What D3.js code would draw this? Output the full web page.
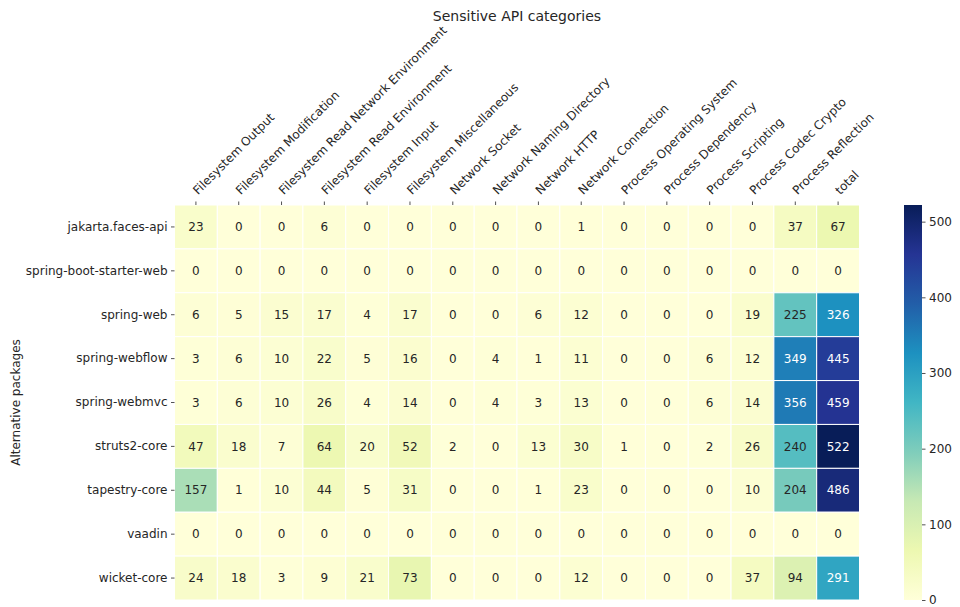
<!DOCTYPE html>
<html>
<head>
<meta charset="utf-8">
<script src="https://cdn.jsdelivr.net/npm/d3@7"></script>
<style>
  body { margin: 0; background: #fff; }
  text { font-family: "DejaVu Sans", sans-serif; fill: #262626; }
</style>
</head>
<body>
<svg id="vis"></svg>
<script>
var categories = ["Filesystem Output", "Filesystem Modification", "Filesystem Read Network Environment",
    "Filesystem Read Environment", "Filesystem Input", "Filesystem Miscellaneous", "Network Socket",
    "Network Naming Directory", "Network HTTP", "Network Connection", "Process Operating System",
    "Process Dependency", "Process Scripting", "Process Codec Crypto", "Process Reflection", "total"];

var packages = ["jakarta.faces-api", "spring-boot-starter-web", "spring-web", "spring-webflow",
    "spring-webmvc", "struts2-core", "tapestry-core", "vaadin", "wicket-core"];

var counts = [
    [23, 0, 0, 6, 0, 0, 0, 0, 0, 1, 0, 0, 0, 0, 37, 67],
    [0, 0, 0, 0, 0, 0, 0, 0, 0, 0, 0, 0, 0, 0, 0, 0],
    [6, 5, 15, 17, 4, 17, 0, 0, 6, 12, 0, 0, 0, 19, 225, 326],
    [3, 6, 10, 22, 5, 16, 0, 4, 1, 11, 0, 0, 6, 12, 349, 445],
    [3, 6, 10, 26, 4, 14, 0, 4, 3, 13, 0, 0, 6, 14, 356, 459],
    [47, 18, 7, 64, 20, 52, 2, 0, 13, 30, 1, 0, 2, 26, 240, 522],
    [157, 1, 10, 44, 5, 31, 0, 0, 1, 23, 0, 0, 0, 10, 204, 486],
    [0, 0, 0, 0, 0, 0, 0, 0, 0, 0, 0, 0, 0, 0, 0, 0],
    [24, 18, 3, 9, 21, 73, 0, 0, 0, 12, 0, 0, 0, 37, 94, 291]
];

var colorbarTicks = [0, 100, 200, 300, 400, 500];

// matplotlib YlGnBu (colorbrewer 9 steps)
var ylgnbu = ["#ffffd9", "#edf8b1", "#c7e9b4", "#7fcdbb", "#41b6c4", "#1d91c0", "#225ea8", "#253494", "#081d58"];

var width = 960, height = 607;
var grid = {left: 174.5, top: 205, right: 859.5, bottom: 600};

var svg = d3.select("#vis").attr("width", width).attr("height", height);

var x = d3.scaleBand().domain(categories).range([grid.left, grid.right]);
var y = d3.scaleBand().domain(packages).range([grid.top, grid.bottom]);

var vmax = d3.max(counts, function(r) { return d3.max(r); });
var color = d3.scaleLinear()
    .domain(ylgnbu.map(function(d, i) { return i / (ylgnbu.length - 1) * vmax; }))
    .range(ylgnbu)
    .interpolate(d3.interpolateRgb);

var cells = [];
counts.forEach(function(row, i) {
    row.forEach(function(v, j) {
        cells.push({pkg: packages[i], cat: categories[j], value: v});
    });
});

// relative luminance, same rule as seaborn for the annotation colour
function lum(c) {
    var rgb = d3.rgb(c);
    var f = function(u) {
        u = u / 255;
        return u <= 0.03928 ? u / 12.92 : Math.pow((u + 0.055) / 1.055, 2.4);
    };
    return 0.2126 * f(rgb.r) + 0.7152 * f(rgb.g) + 0.0722 * f(rgb.b);
}

// cells
svg.append("g").selectAll("rect")
    .data(cells)
    .enter().append("rect")
    .attr("x", function(d) { return x(d.cat); })
    .attr("y", function(d) { return y(d.pkg); })
    .attr("width", x.bandwidth())
    .attr("height", y.bandwidth())
    .attr("fill", function(d) { return color(d.value); })
    .attr("stroke", "#fff")
    .attr("stroke-width", 1);

// annotations
svg.append("g").selectAll("text")
    .data(cells)
    .enter().append("text")
    .attr("x", function(d) { return x(d.cat) + x.bandwidth() / 2; })
    .attr("y", function(d) { return y(d.pkg) + y.bandwidth() / 2; })
    .attr("dy", "0.35em")
    .attr("text-anchor", "middle")
    .style("font-size", "12px")
    .style("fill", function(d) { return lum(color(d.value)) > 0.408 ? "#262626" : "#ffffff"; })
    .text(function(d) { return d.value; });

// top x axis
var xAxis = svg.append("g")
    .attr("transform", "translate(0," + grid.top + ")")
    .call(d3.axisTop(x).tickSize(3.5).tickPadding(3));
xAxis.select(".domain").remove();
xAxis.selectAll(".tick line").attr("stroke", "#262626").attr("stroke-width", 0.8);
xAxis.selectAll(".tick text")
    .attr("text-anchor", "start")
    .attr("x", 0)
    .attr("y", 0)
    .attr("dy", "-0.22em")
    .attr("transform", "translate(4,-8) rotate(-45)")
    .style("font-size", "12px")
    .attr("fill", null);

// left y axis
var yAxis = svg.append("g")
    .attr("transform", "translate(" + grid.left + ",0)")
    .call(d3.axisLeft(y).tickSize(3.5).tickPadding(3.5));
yAxis.select(".domain").remove();
yAxis.selectAll(".tick line").attr("stroke", "#262626").attr("stroke-width", 0.8);
yAxis.selectAll(".tick text").style("font-size", "12px").attr("fill", null);

// title and y label
svg.append("text")
    .attr("x", (grid.left + grid.right) / 2)
    .attr("y", 21)
    .attr("text-anchor", "middle")
    .style("font-size", "14px")
    .text("Sensitive API categories");

svg.append("text")
    .attr("transform", "translate(20," + ((grid.top + grid.bottom) / 2) + ") rotate(-90)")
    .attr("text-anchor", "middle")
    .style("font-size", "12px")
    .text("Alternative packages");

// colorbar
var cb = {left: 904, width: 18};
var cbScale = d3.scaleLinear().domain([0, vmax]).range([grid.bottom, grid.top]);

var defs = svg.append("defs");
var grad = defs.append("linearGradient")
    .attr("id", "cbgrad")
    .attr("x1", 0).attr("y1", 1).attr("x2", 0).attr("y2", 0);
grad.selectAll("stop")
    .data(ylgnbu)
    .enter().append("stop")
    .attr("offset", function(d, i) { return i / (ylgnbu.length - 1); })
    .attr("stop-color", function(d) { return d; });

svg.append("rect")
    .attr("x", cb.left)
    .attr("y", grid.top)
    .attr("width", cb.width)
    .attr("height", grid.bottom - grid.top)
    .attr("fill", "url(#cbgrad)");

var cbAxis = svg.append("g")
    .attr("transform", "translate(" + (cb.left + cb.width) + ",0)")
    .call(d3.axisRight(cbScale).tickValues(colorbarTicks).tickSize(3.5).tickPadding(3.5));
cbAxis.select(".domain").remove();
cbAxis.selectAll(".tick line").attr("stroke", "#262626").attr("stroke-width", 0.8);
cbAxis.selectAll(".tick text").style("font-size", "12px").attr("fill", null);
</script>
</body>
</html>
